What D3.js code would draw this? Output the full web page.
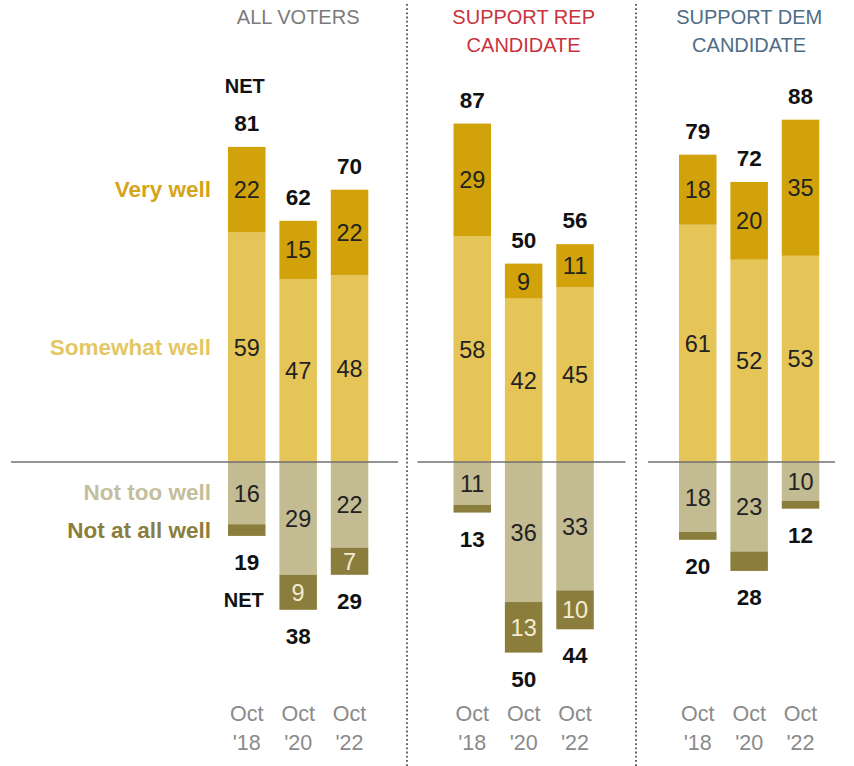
<!DOCTYPE html>
<html>
<head>
<meta charset="utf-8">
<script src="https://cdn.jsdelivr.net/npm/d3@7"></script>
<style>
  html, body { margin: 0; padding: 0; background: #fff; }
  svg { display: block; font-family: "Liberation Sans", Arial, sans-serif; }
</style>
</head>
<body>
<svg id="chart" width="854" height="766"></svg>
<script>
// ---- Data ----
const groups = ["ALL VOTERS", "SUPPORT REP CANDIDATE", "SUPPORT DEM CANDIDATE"];
const groupTitleLines = [["ALL VOTERS"], ["SUPPORT REP", "CANDIDATE"], ["SUPPORT DEM", "CANDIDATE"]];
const waves = ["Oct '18", "Oct '20", "Oct '22"];
const waveLine1 = ["Oct", "Oct", "Oct"];
const waveLine2 = ["'18", "'20", "'22"];
const categories = ["Very well", "Somewhat well", "Not too well", "Not at all well"];

const veryWell     = [[22, 15, 22], [29, 9, 11], [18, 20, 35]];
const somewhatWell = [[59, 47, 48], [58, 42, 45], [61, 52, 53]];
const notTooWell   = [[16, 29, 22], [11, 36, 33], [18, 23, 10]];
const notAtAllWell = [[3, 9, 7],    [2, 13, 10], [2, 5, 2]];
const netWell      = [[81, 62, 70], [87, 50, 56], [79, 72, 88]];
const netNotWell   = [[19, 38, 29], [13, 50, 44], [20, 28, 12]];

// ---- Styles ----
const colors = {
  "Very well": "#d1a20a",
  "Somewhat well": "#e6c558",
  "Not too well": "#c3bc92",
  "Not at all well": "#8b7e3d"
};
const labelColors = {
  "Very well": "#d4a41a",
  "Somewhat well": "#e4c765",
  "Not too well": "#c4be9c",
  "Not at all well": "#8a7e3e"
};
const titleColors = ["#7b7b7b", "#c9333d", "#4e6d86"];

const svg = d3.select("#chart");

// ---- Scales ----
const y = d3.scaleLinear().domain([-60, 100]).range([462 + 60 * 3.89, 462 - 100 * 3.89]);
const panelX = d3.scaleBand().domain(groups).range([228, 228 + 3 * 225.5]).padding(0);
const xInner = d3.scaleBand().domain(waves).range([0, 140.3]).paddingInner(0.27).paddingOuter(0);
const bw = xInner.bandwidth();

// ---- Dotted dividers ----
[407, 636].forEach(x => {
  svg.append("line")
    .attr("x1", x).attr("x2", x).attr("y1", 4).attr("y2", 766)
    .attr("stroke", "#555").attr("stroke-width", 1.8)
    .attr("stroke-dasharray", "1.8,2.4");
});

// ---- Panels ----
const baselineExtents = [[-217, 170], [-36, 172], [-31, 156]];

groups.forEach((g, gi) => {
  const px = panelX(g);
  const pg = svg.append("g").attr("transform", `translate(${px},0)`);
  const center = 140.3 / 2;

  // Title
  groupTitleLines[gi].forEach((t, li) => {
    pg.append("text")
      .attr("x", center).attr("y", 24 + li * 28)
      .attr("text-anchor", "middle")
      .attr("font-size", 20)
      .attr("fill", titleColors[gi])
      .text(t);
  });

  // Bars
  waves.forEach((w, wi) => {
    const bx = xInner(w);
    const S = somewhatWell[gi][wi], V = veryWell[gi][wi];
    const N = notTooWell[gi][wi], A = notAtAllWell[gi][wi];
    const segs = [
      { cat: "Somewhat well", y0: 0, y1: S, v: S },
      { cat: "Very well", y0: S, y1: S + V, v: V },
      { cat: "Not too well", y0: 0, y1: -N, v: N },
      { cat: "Not at all well", y0: -N, y1: -(N + A), v: A }
    ];
    segs.forEach(s => {
      const top = y(Math.max(s.y0, s.y1)), bot = y(Math.min(s.y0, s.y1));
      pg.append("rect")
        .attr("x", bx).attr("y", top).attr("width", bw).attr("height", bot - top)
        .attr("fill", colors[s.cat]);
      if (s.v >= 7) {
        pg.append("text")
          .attr("x", bx + bw / 2).attr("y", (top + bot) / 2 + 8.5)
          .attr("text-anchor", "middle")
          .attr("font-size", 23.5)
          .attr("fill", s.cat === "Not at all well" ? "#f3ecd2" : "#222")
          .text(s.v);
      }
    });

    // Net labels
    const topY = y(S + V);
    pg.append("text")
      .attr("x", bx + bw / 2).attr("y", topY - 16)
      .attr("text-anchor", "middle").attr("font-weight", "bold")
      .attr("font-size", 22.5).attr("fill", "#111")
      .text(netWell[gi][wi]);
    const botY = y(-(N + A));
    pg.append("text")
      .attr("x", bx + bw / 2).attr("y", botY + 34)
      .attr("text-anchor", "middle").attr("font-weight", "bold")
      .attr("font-size", 22.5).attr("fill", "#111")
      .text(netNotWell[gi][wi]);

    if (gi === 0 && wi === 0) {
      pg.append("text")
        .attr("x", bx + bw / 2 - 2).attr("y", topY - 54)
        .attr("text-anchor", "middle").attr("font-weight", "bold")
        .attr("font-size", 20).attr("fill", "#111").text("NET");
      pg.append("text")
        .attr("x", bx + bw / 2 - 3).attr("y", botY + 71)
        .attr("text-anchor", "middle").attr("font-weight", "bold")
        .attr("font-size", 20).attr("fill", "#111").text("NET");
    }

    // Axis labels
    pg.append("text")
      .attr("x", bx + bw / 2).attr("y", 721)
      .attr("text-anchor", "middle").attr("font-size", 21.5)
      .attr("fill", "#8a8a8a").text(waveLine1[wi]);
    pg.append("text")
      .attr("x", bx + bw / 2).attr("y", 750)
      .attr("text-anchor", "middle").attr("font-size", 21.5)
      .attr("fill", "#8a8a8a").text(waveLine2[wi]);
  });

  // Baseline
  pg.append("line")
    .attr("x1", baselineExtents[gi][0]).attr("x2", baselineExtents[gi][1])
    .attr("y1", y(0)).attr("y2", y(0))
    .attr("stroke", "#6f6f6f").attr("stroke-width", 1.5);
});

// ---- Category labels (left) ----
const p0 = panelX(groups[0]), b0 = xInner(waves[0]);
const catPos = {
  "Very well": (y(somewhatWell[0][0]) + y(somewhatWell[0][0] + veryWell[0][0])) / 2,
  "Somewhat well": (y(0) + y(somewhatWell[0][0])) / 2,
  "Not too well": (y(0) + y(-notTooWell[0][0])) / 2 - 1,
  "Not at all well": y(-notTooWell[0][0]) + 6
};
categories.forEach(c => {
  svg.append("text")
    .attr("x", p0 + b0 - 17).attr("y", catPos[c] + 7.5)
    .attr("text-anchor", "end").attr("font-weight", "bold")
    .attr("font-size", 22.5).attr("fill", labelColors[c])
    .text(c);
});
</script>
</body>
</html>
